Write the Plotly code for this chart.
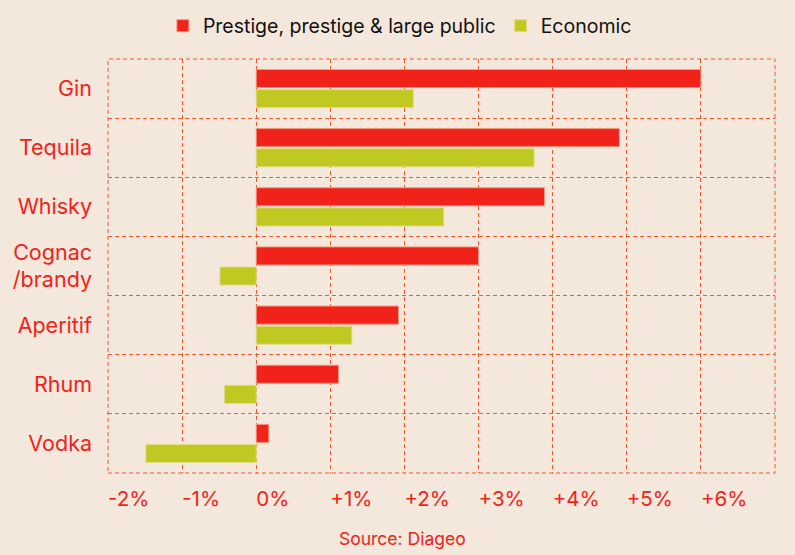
import plotly.graph_objects as go

categories = ["Gin", "Tequila", "Whisky", "Cognac<br>/brandy", "Aperitif", "Rhum", "Vodka"]
prestige = [6.0, 4.9, 3.89, 3.0, 1.92, 1.11, 0.17]
economic = [2.12, 3.75, 2.53, -0.49, 1.29, -0.43, -1.49]
tick_vals = [-2, -1, 0, 1, 2, 3, 4, 5, 6, 7]
tick_text = ["-2%", "-1%", "0%", "+1%", "+2%", "+3%", "+4%", "+5%", "+6%", ""]

RED = "#F0221A"
GREEN = "#C0C822"
BG = "#F4E7DC"
GRID = "#F2582E"
FONT = "Inter"

fig = go.Figure()
fig.add_trace(go.Bar(
    y=categories, x=prestige, orientation="h", name="Prestige, prestige & large public",
    marker=dict(color=RED, line=dict(color="#F59A80", width=1)),
))
fig.add_trace(go.Bar(
    y=categories, x=economic, orientation="h", name="Economic",
    marker=dict(color=GREEN, line=dict(color="#E2DC8A", width=1)),
))

fig.update_layout(
    width=795, height=555,
    paper_bgcolor=BG, plot_bgcolor=BG,
    margin=dict(l=108, r=20, t=59, b=82, autoexpand=False),
    barmode="group", bargap=0.32, bargroupgap=0.1,
    font=dict(family=FONT, color=RED),
    showlegend=True,
    legend=dict(orientation="h", xref="container", x=0.503, xanchor="center",
                yref="container", y=1 - 26 / 555, yanchor="middle",
                font=dict(size=19.5, color="#111111", family=FONT),
                traceorder="normal", itemwidth=30),
    shapes=[dict(type="rect", xref="paper", yref="paper", x0=0, x1=1, y0=0, y1=1,
                 line=dict(color=GRID, width=1, dash="4px,3px"), layer="below")],
    annotations=[dict(text="Source: Diageo", xref="paper", yref="paper",
                      x=0.442, y=-(538 - 473) / 414, xanchor="center", yanchor="middle",
                      showarrow=False, font=dict(size=17.5, color=RED, family=FONT))],
)
fig.update_xaxes(
    range=[-2, 7], tickvals=tick_vals, ticktext=tick_text, automargin=False,
    showgrid=True, gridcolor=GRID, gridwidth=1, griddash="4px,3px",
    zeroline=False, showline=False,
    ticklabelposition="outside right", ticks="", ticklabelstandoff=11,
    tickfont=dict(size=20.5, color=RED, family=FONT),
)
fig.update_yaxes(
    range=[6.5, -0.5], type="category", tickson="boundaries", automargin=False,
    showgrid=True, gridcolor=GRID, gridwidth=1, griddash="4px,3px",
    zeroline=False, showline=False,
    ticks="", ticklabelstandoff=15,
    tickfont=dict(size=21.5, color=RED, family=FONT),
)

fig.write_html("out.html", config={"displayModeBar": False},
               post_script="document.body.style.margin='0';")
